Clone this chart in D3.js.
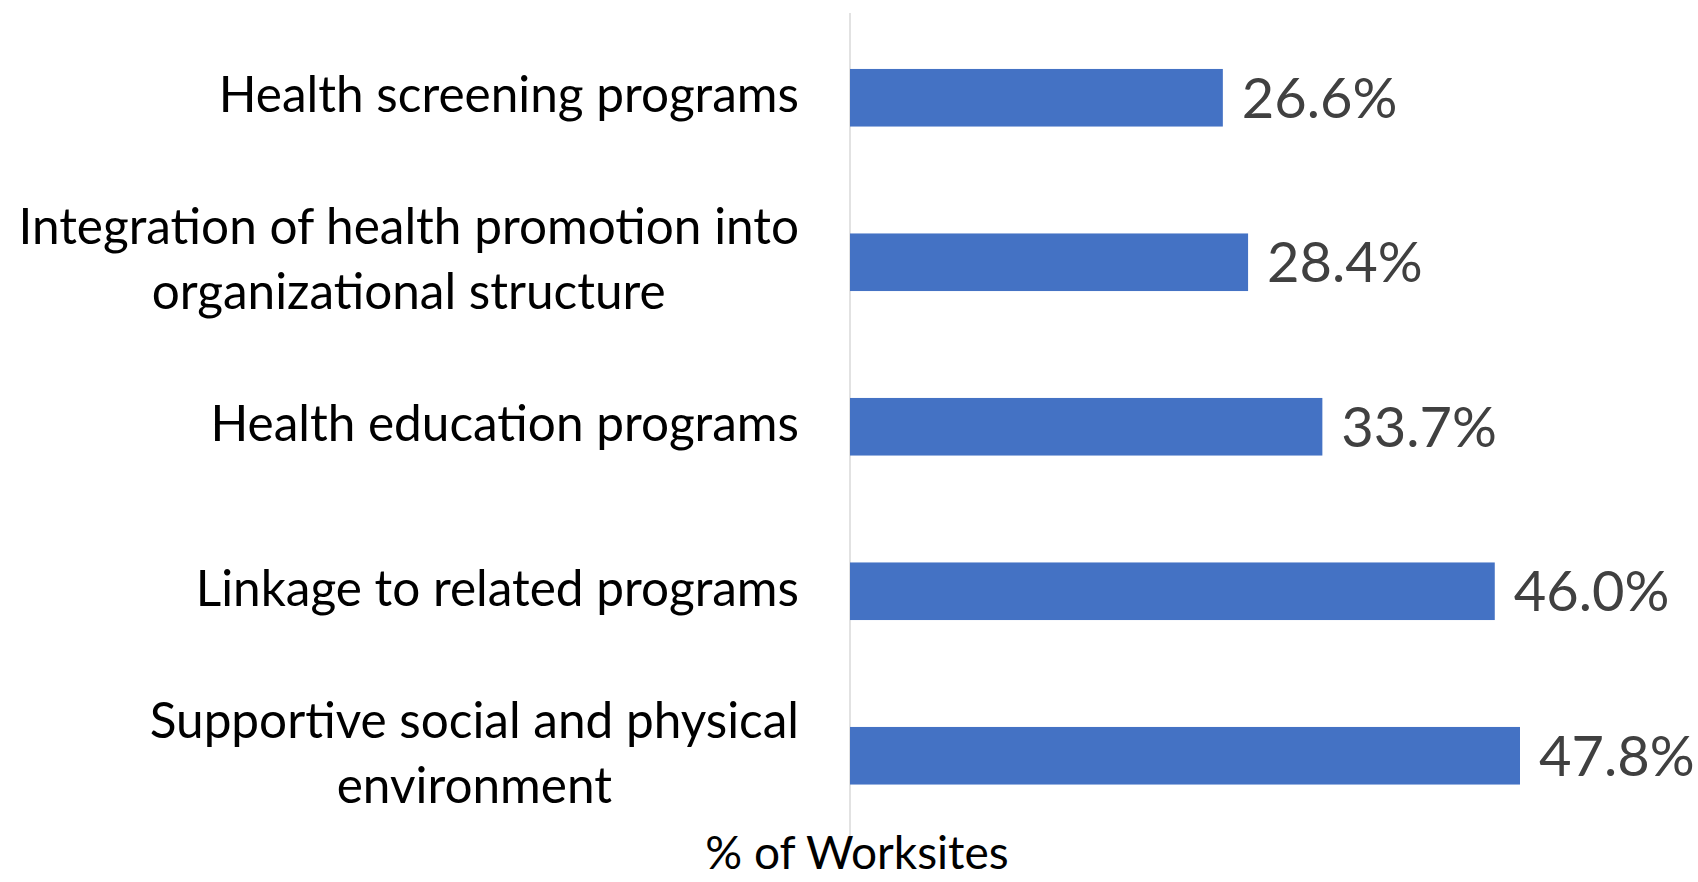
<!DOCTYPE html>
<html>
<head>
<meta charset="utf-8">
<script src="https://cdn.jsdelivr.net/npm/d3@7"></script>
<style>
  body { margin: 0; background: #fff; }
  text { font-family: Lato, "Noto Sans", sans-serif; }
</style>
</head>
<body>
<script>
// data
const categories = [
  ["Health screening programs"],
  ["Integration of health promotion into", "organizational structure"],
  ["Health education programs"],
  ["Linkage to related programs"],
  ["Supportive social and physical", "environment"]
];
const values = [26.6, 28.4, 33.7, 46.0, 47.8];
const axisTitle = "% of Worksites";

const width = 1698, height = 882;

const svg = d3.select("body").append("svg")
  .attr("width", width)
  .attr("height", height);

// scales
const x = d3.scaleLinear()
  .domain([0, 60])
  .range([850, 1691]);

const y = d3.scaleBand()
  .domain(d3.range(values.length))
  .range([15.5, 838])
  .paddingInner(0.65)
  .paddingOuter(0.325);

// vertical axis line
svg.append("line")
  .attr("x1", x(0)).attr("x2", x(0))
  .attr("y1", 13).attr("y2", 836)
  .attr("stroke", "#d9d9d9")
  .attr("stroke-width", 1.5);

// bars
svg.selectAll(".bar")
  .data(values)
  .enter().append("rect")
  .attr("class", "bar")
  .attr("x", x(0))
  .attr("y", (d, i) => y(i))
  .attr("width", d => x(d) - x(0))
  .attr("height", y.bandwidth())
  .attr("fill", "#4472c4");

// value labels
svg.selectAll(".val")
  .data(values)
  .enter().append("text")
  .attr("class", "val")
  .attr("x", d => x(d) + 19)
  .attr("y", (d, i) => y(i) + y.bandwidth() / 2)
  .attr("dy", "0.36em")
  .attr("font-size", 56)
  .attr("fill", "#404040")
  .text(d => d.toFixed(1) + "%");

// category labels, multi-line centred within a right-aligned block
const labelRight = 799, lineGap = 65;
const lab = svg.selectAll(".cat")
  .data(categories)
  .enter().append("text")
  .attr("class", "cat")
  .attr("font-size", 49.5)
  .attr("fill", "#000")
  .attr("text-anchor", "middle");

lab.each(function (lines, i) {
  const t = d3.select(this);
  const cy = y(i) + y.bandwidth() / 2 - 3;
  lines.forEach((s, k) => {
    t.append("tspan")
      .attr("y", cy + (k - (lines.length - 1) / 2) * lineGap)
      .attr("dy", "0.35em")
      .text(s);
  });
  // measure widest line and centre the block against the right edge
  let w = 0;
  t.selectAll("tspan").each(function () { w = Math.max(w, this.getComputedTextLength()); });
  t.selectAll("tspan").attr("x", labelRight - w / 2);
});

// axis title
svg.append("text")
  .attr("x", 857)
  .attr("y", 869)
  .attr("text-anchor", "middle")
  .attr("font-size", 46)
  .attr("fill", "#000")
  .text(axisTitle);
</script>
</body>
</html>
